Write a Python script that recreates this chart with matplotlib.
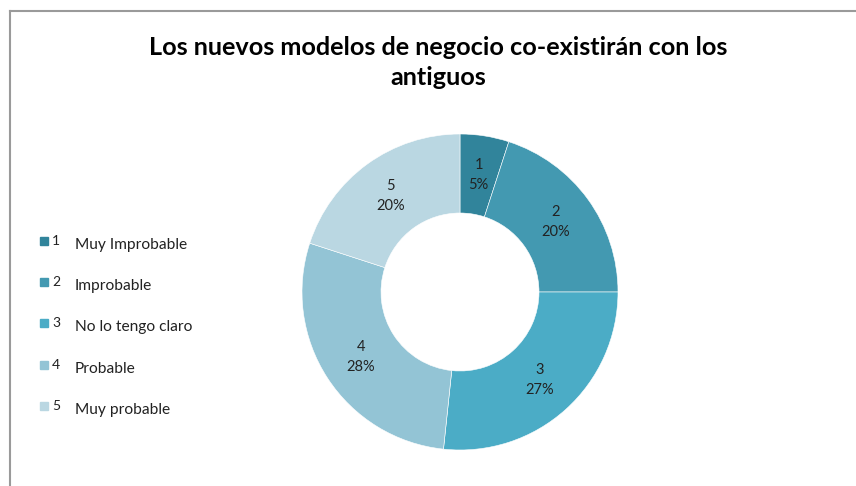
import matplotlib.pyplot as plt
from matplotlib.patches import Rectangle
from matplotlib.lines import Line2D

plt.rcParams['font.family'] = ['Lato', 'DejaVu Sans']

title = "Los nuevos modelos de negocio co-existirán con los\nantiguos"
codes = ["1", "2", "3", "4", "5"]
names = ["Muy Improbable", "Improbable", "No lo tengo claro", "Probable", "Muy probable"]
counts = [3, 12, 16, 17, 12]
colors = ["#31849B", "#4399B1", "#4BACC6", "#93C4D5", "#BAD7E2"]

W, H = 856, 486
fig = plt.figure(figsize=(W / 100, H / 100), dpi=100)

# chart frame (only left and top edges visible in the reference)
fig.add_artist(Line2D([10 / W, 10 / W], [0, 1 - 11.5 / H], color="#9a9a9a", lw=1.5))
fig.add_artist(Line2D([10 / W, 1], [1 - 11.5 / H, 1 - 11.5 / H], color="#9a9a9a", lw=1.5))

fig.text(438 / W, 1 - 62.5 / H, title, ha="center", va="center", fontsize=18.2,
         fontweight="bold", linespacing=1.42)

# donut
cx, cy, r = 460, 292, 158
half = 162
ax = fig.add_axes([(cx - half) / W, (H - cy - half) / H, 2 * half / W, 2 * half / H])
lim = half / r

idx = iter(range(len(counts)))
wedges, texts, autotexts = ax.pie(
    counts, colors=colors, startangle=90, counterclock=False, radius=1,
    wedgeprops=dict(width=0.5, edgecolor="white", linewidth=0.4),
    autopct=lambda p: f"{codes[next(idx)]}\n{p:.0f}%", pctdistance=0.75,
    textprops=dict(fontsize=10.5, color="#222222", linespacing=1.55))
ax.set_xlim(-lim, lim)
ax.set_ylim(-lim, lim)
ax.set_aspect("equal")
ax.axis("off")

# legend
for i, (c, n, col) in enumerate(zip(codes, names, colors)):
    y = 241 + i * 41.2
    fig.add_artist(Rectangle((40 / W, 1 - (y + 4) / H), 8 / W, 8 / H, color=col))
    fig.text(52 / W, 1 - y / H, c, ha="left", va="center", fontsize=10, color="#222222")
    fig.text(75 / W, 1 - (y + 4) / H, n, ha="left", va="center", fontsize=11.2, color="#222222")

fig.savefig("out.png", dpi=100, facecolor="white")
